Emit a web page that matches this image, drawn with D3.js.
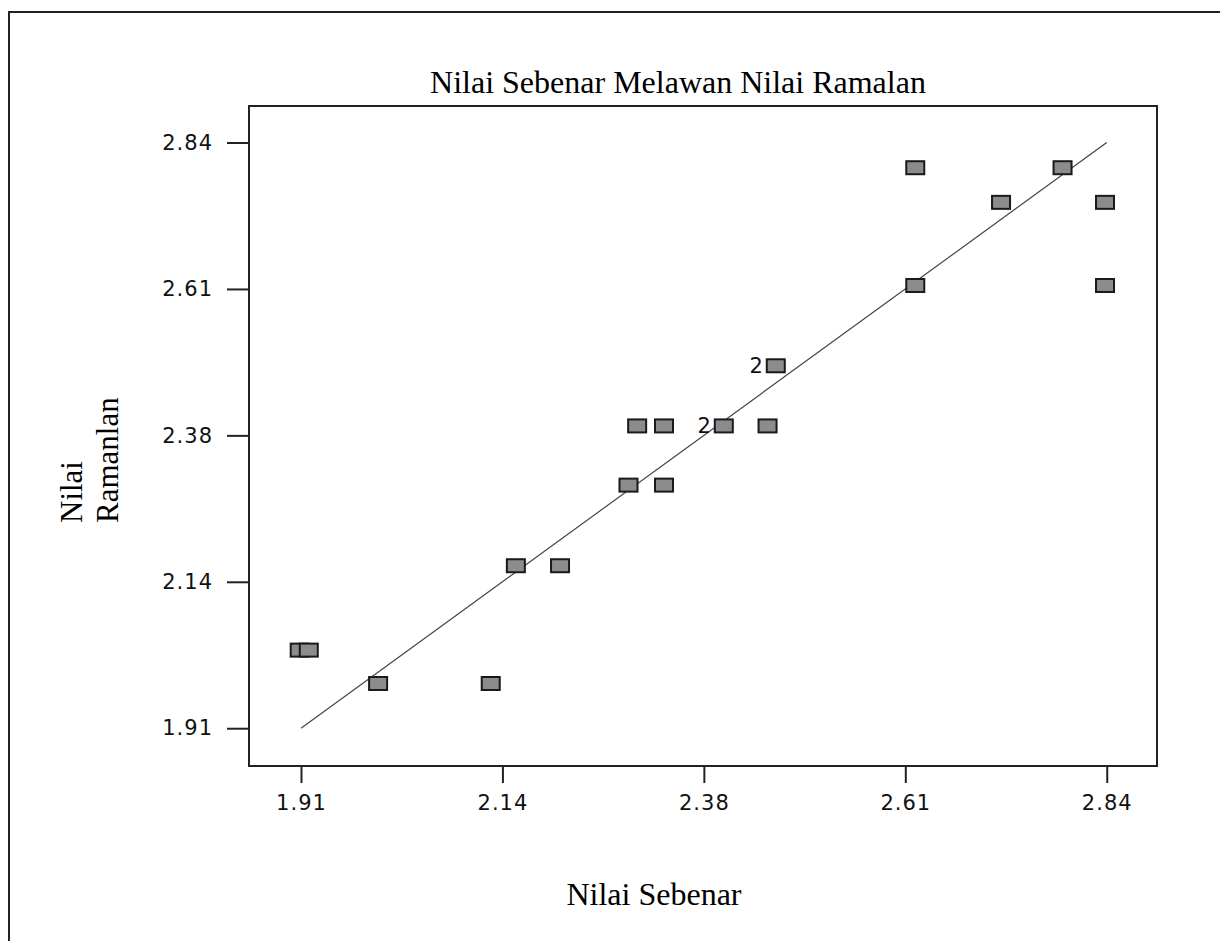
<!DOCTYPE html>
<head>
  <meta charset="utf-8">
  <script src="https://d3js.org/d3.v7.min.js"></script>
  <style>
    body { margin: 0; padding: 0; background: #fff; }
    svg { display: block; }
    .tick text { font-family: "DejaVu Sans", sans-serif; font-size: 21px; letter-spacing: 1px; fill: #111; }
    .tick line { stroke: #222; stroke-width: 2; }
    .serif { font-family: "Liberation Serif", "Times New Roman", serif; fill: #000; }
  </style>
</head>
<body>
  <script>
    var actual    = [1.9085, 1.919, 1.999, 2.129, 2.158, 2.209, 2.288, 2.329, 2.298, 2.329, 2.398, 2.4485, 2.458, 2.619, 2.619, 2.718, 2.789, 2.838, 2.838],
      predicted   = [2.034, 2.034, 1.981, 1.981, 2.168, 2.168, 2.296, 2.296, 2.390, 2.390, 2.390, 2.390, 2.4855, 2.800, 2.613, 2.745, 2.800, 2.745, 2.613],
      counts      = [1, 1, 1, 1, 1, 1, 1, 1, 1, 1, 2, 1, 2, 1, 1, 1, 1, 1, 1],
      fitX = [1.91, 2.84],
      fitY = [1.91, 2.84],
      ticks = [1.91, 2.1425, 2.375, 2.6075, 2.84],
      tickLabels = ['1.91', '2.14', '2.38', '2.61', '2.84'];

    var width = 1220, height = 941;
    var box = { left: 249, right: 1157, top: 106, bottom: 766 };

    var svg = d3.select("body").append("svg")
      .attr("width", width)
      .attr("height", height);

    // outer frame (only left and top show in the picture)
    svg.append("path")
      .attr("d", "M9," + height + "V12H" + width)
      .attr("fill", "none")
      .attr("stroke", "#222")
      .attr("stroke-width", 2);

    var x = d3.scaleLinear().domain([1.85, 2.898]).range([box.left, box.right]);
    var y = d3.scaleLinear().domain([1.85, 2.898]).range([box.bottom, box.top]);

    svg.append("g")
      .attr("transform", "translate(0," + box.bottom + ")")
      .call(d3.axisBottom(x)
        .tickValues(ticks)
        .tickFormat(function (d, i) { return tickLabels[i] })
        .tickSize(17)
        .tickPadding(12))
      .call(function (g) { g.select(".domain").remove() });

    svg.append("g")
      .attr("transform", "translate(" + box.left + ",0)")
      .call(d3.axisLeft(y)
        .tickValues(ticks)
        .tickFormat(function (d, i) { return tickLabels[i] })
        .tickSize(22)
        .tickPadding(14))
      .call(function (g) { g.select(".domain").remove() });

    // plot box
    svg.append("rect")
      .attr("x", box.left)
      .attr("y", box.top)
      .attr("width", box.right - box.left)
      .attr("height", box.bottom - box.top)
      .attr("fill", "none")
      .attr("stroke", "#222")
      .attr("stroke-width", 2);

    // fitted line
    svg.append("line")
      .attr("x1", x(fitX[0])).attr("y1", y(fitY[0]))
      .attr("x2", x(fitX[1])).attr("y2", y(fitY[1]))
      .attr("stroke", "#444")
      .attr("stroke-width", 1.2);

    var pts = actual.map(function (d, i) { return { x: d, y: predicted[i], n: counts[i] } });

    svg.selectAll("rect.pt")
      .data(pts)
      .enter().append("rect")
      .attr("class", "pt")
      .attr("x", function (d) { return x(d.x) - 9 })
      .attr("y", function (d) { return y(d.y) - 6.5 })
      .attr("width", 18)
      .attr("height", 13)
      .attr("fill", "#8c8c8c")
      .attr("stroke", "#1a1a1a")
      .attr("stroke-width", 2);

    svg.selectAll("text.cnt")
      .data(pts.filter(function (d) { return d.n > 1 }))
      .enter().append("text")
      .attr("class", "cnt")
      .attr("x", function (d) { return x(d.x) - 13 })
      .attr("y", function (d) { return y(d.y) + 7.5 })
      .attr("text-anchor", "end")
      .attr("font-family", "DejaVu Sans, sans-serif")
      .attr("font-size", "21px")
      .attr("fill", "#111")
      .text(function (d) { return d.n });

    svg.append("text")
      .attr("class", "serif")
      .attr("x", 678)
      .attr("y", 93)
      .attr("text-anchor", "middle")
      .attr("font-size", "32px")
      .text("Nilai Sebenar Melawan Nilai Ramalan");

    svg.append("text")
      .attr("class", "serif")
      .attr("x", 654)
      .attr("y", 905)
      .attr("text-anchor", "middle")
      .attr("font-size", "32px")
      .text("Nilai Sebenar");

    svg.append("text")
      .attr("class", "serif")
      .attr("transform", "translate(82,523) rotate(-90)")
      .attr("font-size", "31px")
      .text("Nilai");

    svg.append("text")
      .attr("class", "serif")
      .attr("transform", "translate(118,523) rotate(-90)")
      .attr("font-size", "31px")
      .text("Ramanlan");
  </script>
</body>
